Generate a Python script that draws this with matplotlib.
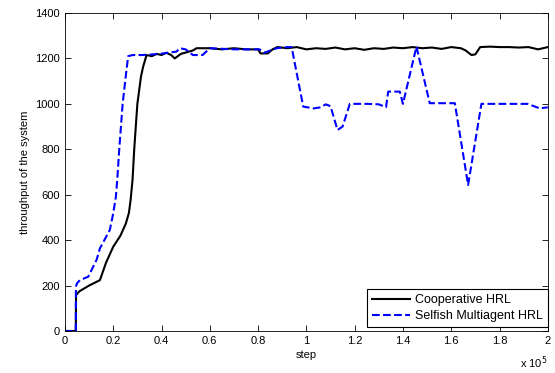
import matplotlib
matplotlib.use('Agg')
import matplotlib.pyplot as plt

plt.rcParams['font.family'] = ['Liberation Sans', 'DejaVu Sans']

# step values in units of 1e5
coop_x = [0, 0.045, 0.046, 0.06, 0.10, 0.145, 0.17, 0.20, 0.23, 0.2526, 0.265, 0.272, 0.28,
          0.287, 0.30, 0.315, 0.324, 0.338, 0.36, 0.38, 0.40, 0.42, 0.44, 0.455, 0.48, 0.53,
          0.545, 0.60, 0.65, 0.70, 0.75, 0.80, 0.81, 0.84, 0.86, 0.88, 0.92, 0.96, 1.0, 1.04,
          1.08, 1.12, 1.16, 1.2, 1.24, 1.28, 1.32, 1.36, 1.40, 1.44, 1.48, 1.52, 1.56, 1.60,
          1.64, 1.66, 1.684, 1.70, 1.72, 1.76, 1.80, 1.84, 1.88, 1.92, 1.96, 2.0]
coop_y = [0, 0, 158, 175, 200, 224, 300, 371, 420, 474, 520, 577, 665,
          800, 1000, 1120, 1164, 1215, 1210, 1220, 1215, 1225, 1215, 1200, 1220, 1235,
          1245, 1245, 1240, 1245, 1240, 1240, 1222, 1222, 1240, 1250, 1245, 1250, 1240, 1245,
          1242, 1248, 1240, 1245, 1238, 1245, 1242, 1248, 1245, 1250, 1245, 1248, 1242, 1250,
          1245, 1235, 1215, 1218, 1250, 1252, 1250, 1250, 1248, 1250, 1240, 1250]

selfish_x = [0, 0.045, 0.0455, 0.05, 0.062, 0.0966, 0.131, 0.145, 0.186, 0.20, 0.211, 0.2166,
             0.225, 0.239, 0.255, 0.262, 0.28, 0.32, 0.393, 0.462, 0.476, 0.50, 0.53, 0.57,
             0.60, 0.70, 0.807, 0.825, 0.877, 0.92, 0.939, 0.987, 1.03, 1.06, 1.08, 1.10,
             1.129, 1.15, 1.18, 1.25, 1.30, 1.33, 1.339, 1.387, 1.40, 1.456, 1.511, 1.615,
             1.67, 1.725, 1.80, 1.917, 1.967, 2.0]
selfish_y = [0, 0, 195, 210, 224, 239, 313, 364, 445, 518, 591, 665,
             800, 1000, 1150, 1210, 1215, 1215, 1220, 1230, 1245, 1240, 1215, 1215,
             1245, 1240, 1240, 1225, 1245, 1250, 1250, 988, 980, 985, 998, 990,
             885, 900, 1000, 1000, 998, 985, 1054, 1054, 1000, 1252, 1003, 1003,
             643, 1000, 1000, 1000, 980, 985]

x_ticks = [0, 0.2, 0.4, 0.6, 0.8, 1, 1.2, 1.4, 1.6, 1.8, 2]
x_labels = ['0', '0.2', '0.4', '0.6', '0.8', '1', '1.2', '1.4', '1.6', '1.8', '2']
y_ticks = [0, 200, 400, 600, 800, 1000, 1200, 1400]

fig = plt.figure(figsize=(5.55, 3.73), dpi=100)
ax = fig.add_axes([0.117, 0.1126, 0.870, 0.8525])

ax.plot(coop_x, coop_y, color='black', linewidth=1.5, label='Cooperative HRL')
ax.plot(selfish_x, selfish_y, color='blue', linestyle='--', linewidth=1.5,
        label='Selfish Multiagent HRL')

ax.set_xlim(0, 2)
ax.set_ylim(0, 1400)
ax.set_xticks(x_ticks)
ax.set_xticklabels(x_labels)
ax.set_yticks(y_ticks)
ax.tick_params(direction='in', top=True, right=True, labelsize=8, length=4, width=0.6)
for s in ax.spines.values():
    s.set_linewidth(0.6)

ax.set_xlabel('step', fontsize=8, labelpad=3)
ax.set_ylabel('throughput of the system', fontsize=8, labelpad=4)
ax.text(1.0, -0.115, r'x 10$^5$', transform=ax.transAxes, ha='right', va='baseline', fontsize=8)

leg = ax.legend(loc='lower right', bbox_to_anchor=(1.0, 0.012), fontsize=9, fancybox=False,
                framealpha=1, edgecolor='black', borderaxespad=0, handlelength=3.0,
                handletextpad=0.4, borderpad=0.4, labelspacing=0.3)
leg.get_frame().set_linewidth(0.8)

fig.savefig('out.png', dpi=100, facecolor='white')
